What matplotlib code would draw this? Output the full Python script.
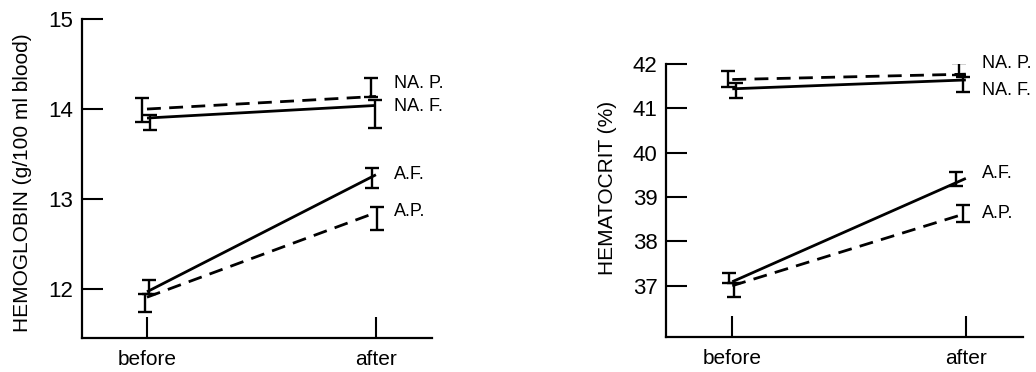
import numpy as np
import matplotlib.pyplot as plt

plt.rcParams['font.family'] = ['Liberation Sans', 'DejaVu Sans']

conditions = ['before', 'after']
groups = ['NA. P.', 'NA. F.', 'A.F.', 'A.P.']

# hemoglobin (g/100 ml blood): mean, lower and upper end of the error bar
hb_na_p = [14.00, 14.14]
hb_na_p_lo = [13.86, 14.13]
hb_na_p_hi = [14.12, 14.34]
hb_na_f = [13.90, 14.04]
hb_na_f_lo = [13.77, 13.79]
hb_na_f_hi = [13.93, 14.10]
hb_a_f = [11.97, 13.27]
hb_a_f_lo = [11.95, 13.12]
hb_a_f_hi = [12.10, 13.35]
hb_a_p = [11.91, 12.85]
hb_a_p_lo = [11.75, 12.66]
hb_a_p_hi = [11.95, 12.91]

# hematocrit (%)
hc_na_p = [41.65, 41.77]
hc_na_p_lo = [41.47, 41.75]
hc_na_p_hi = [41.85, 42.02]
hc_na_f = [41.44, 41.64]
hc_na_f_lo = [41.23, 41.37]
hc_na_f_hi = [41.56, 41.71]
hc_a_f = [37.09, 39.42]
hc_a_f_lo = [37.06, 39.25]
hc_a_f_hi = [37.28, 39.57]
hc_a_p = [37.00, 38.63]
hc_a_p_lo = [36.75, 38.44]
hc_a_p_hi = [37.06, 38.82]

hb_ticks = [12, 13, 14, 15]
hc_ticks = [37, 38, 39, 40, 41, 42]

x = np.arange(len(conditions))
fig = plt.figure(figsize=(10.36, 3.72), dpi=100)
ax1 = fig.add_axes([0.0789, 0.0922, 0.3381, 0.8567])
ax2 = fig.add_axes([0.6426, 0.0949, 0.3449, 0.7331])

lw = 2.0
dash = (0, (5, 3))


def panel(ax, series, offsets, ticks, ylim, ylabel, label_y, label_x):
    for (mean, lo, hi, style), off in zip(series, offsets):
        mean = np.array(mean)
        ax.plot(x, mean, color='black', lw=lw, linestyle=style, solid_capstyle='butt')
        ax.errorbar(x + np.array(off), mean,
                    yerr=[mean - np.array(lo), np.array(hi) - mean],
                    fmt='none', ecolor='black', elinewidth=1.7, capsize=5, capthick=1.7)
    for name, ly in zip(groups, label_y):
        ax.text(label_x, ly, name, fontsize=13, va='center', ha='left', clip_on=False)
    ax.set_xlim(-0.285, 1.245)
    ax.set_ylim(*ylim)
    ax.set_xticks(x)
    ax.set_xticklabels(conditions, fontsize=15)
    ax.set_yticks(ticks)
    ax.set_yticklabels([str(t) for t in ticks], fontsize=16)
    ax.tick_params(axis='both', direction='in', length=15, width=1.5, color='black')
    ax.tick_params(axis='x', pad=9)
    ax.tick_params(axis='y', pad=6)
    ax.spines['top'].set_visible(False)
    ax.spines['right'].set_visible(False)
    ax.spines['left'].set_linewidth(1.6)
    ax.spines['bottom'].set_linewidth(1.6)
    ax.spines['left'].set_bounds(ylim[0], ticks[-1])
    ax.set_ylabel(ylabel, fontsize=15)


panel(ax1,
      [(hb_na_p, hb_na_p_lo, hb_na_p_hi, dash),
       (hb_na_f, hb_na_f_lo, hb_na_f_hi, '-'),
       (hb_a_f, hb_a_f_lo, hb_a_f_hi, '-'),
       (hb_a_p, hb_a_p_lo, hb_a_p_hi, dash)],
      [(-0.022, -0.022), (0.012, -0.004), (0.01, -0.015), (-0.007, 0.004)],
      hb_ticks, (11.46, 15), 'HEMOGLOBIN (g/100 ml blood)',
      [14.28, 14.03, 13.27, 12.86], 1.08)
ax1.yaxis.set_label_coords(-0.142, 0.487)

panel(ax2,
      [(hc_na_p, hc_na_p_lo, hc_na_p_hi, dash),
       (hc_na_f, hc_na_f_lo, hc_na_f_hi, '-'),
       (hc_a_f, hc_a_f_lo, hc_a_f_hi, '-'),
       (hc_a_p, hc_a_p_lo, hc_a_p_hi, dash)],
      [(-0.02, -0.03), (0.014, -0.014), (-0.015, -0.04), (0.006, -0.01)],
      hc_ticks, (35.85, 42), 'HEMATOCRIT (%)',
      [42.02, 41.41, 39.53, 38.63], 1.07)
ax2.yaxis.set_label_coords(-0.136, 0.545)

fig.savefig('out.png', dpi=100)
